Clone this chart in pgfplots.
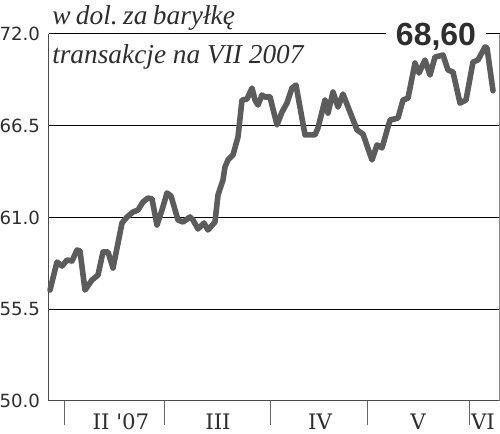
\documentclass[border=0pt]{standalone}
\usepackage{fontspec}
\setmainfont{Liberation Serif}
\newfontfamily\tickfont{DejaVu Sans}
\newfontfamily\monthfont{DejaVu Serif}
\newfontfamily\bignum{Liberation Sans}
\usepackage{pgfplots}
\pgfplotsset{compat=1.18}
\definecolor{linegray}{HTML}{5C5C5C}
\definecolor{txt}{HTML}{2E2E2E}
\begin{document}
\frenchspacing
\begin{tikzpicture}
\useasboundingbox (0,0) rectangle (375pt,325.5pt);
\begin{axis}[
  at={(36.75pt,24.75pt)}, anchor=south west,
  scale only axis, width=338.25pt, height=275.25pt,
  xmin=49, xmax=500, ymin=50, ymax=72,
  axis x line=bottom, axis y line=left,
  axis line style={-, draw=black!70, line width=0.75pt},
  ytick={50,55.5,61,66.5,72},
  yticklabels={50.0,55.5,61.0,66.5,72.0},
  ymajorgrids, grid style={black, line width=0.75pt},
  major y tick style={draw=none},
  yticklabel style={font=\tickfont\fontsize{13.6}{16}\selectfont, text=txt, anchor=east, inner sep=0pt, xshift=-4.5pt},
  xtick={121,218,320,418,483},
  xticklabels={II '07,III,IV,V,VI},
  major x tick style={draw=none},
  xticklabel style={font=\monthfont\fontsize{16}{18}\selectfont, text=txt, anchor=base, inner sep=0pt, yshift=-19.5pt},
  extra x ticks={65,164,270,367,469},
  extra x tick labels={},
  extra x tick style={major tick length=18pt, tick align=outside, major x tick style={draw=black!60, line width=0.75pt}, grid=none},
  clip=false,
]
\node[fill=white, inner xsep=7.5pt, inner ysep=1pt, anchor=base, font=\bignum\bfseries\fontsize{24}{28}\selectfont, text=txt] at (axis cs:436,71.34) {68,60};
\addplot[linegray, line width=4.2pt, line join=round, line cap=round] coordinates {
(50,56.65) (57,58.33) (62,58.09) (67,58.45) (72,58.39) (77,59.05) (80,58.99)
(85,56.65) (92,57.25) (98,57.55) (103,58.93) (108,58.93) (113,57.97) (122,60.67)
(127,61.03) (133,61.33) (138,61.45) (143,61.93) (148,62.17) (152,62.11) (157,60.55)
(162,61.45) (167,62.47) (171,62.29) (178,60.85) (183,60.73) (190,61.03) (193,60.85)
(198,60.31) (204,60.67) (208,60.25) (215,60.73) (218,62.35) (223,63.25) (225,64.03)
(228,64.45) (233,64.75) (238,65.83) (242,68.04) (247,68.10) (252,68.76) (255,68.04)
(258,67.74) (262,68.34) (265,68.22) (270,68.22) (277,66.55) (282,67.32) (287,67.86)
(292,68.76) (296,68.94) (305,65.95) (315,65.95) (318,66.37) (325,68.04) (328,67.26)
(333,68.52) (338,67.62) (343,68.40) (357,66.25) (363,66.00) (372,64.45) (377,65.35)
(382,65.17) (390,66.84) (398,66.96) (403,68.04) (408,68.16) (415,70.26) (419,69.66)
(425,70.44) (430,69.54) (435,70.62) (443,70.74) (448,69.84) (453,69.72) (460,67.86)
(466,68.04) (473,70.32) (478,70.44) (485,71.22) (487,71.16) (493,68.60)
};
\draw[black!45, line width=0.6pt] (axis cs:499.3,50) -- (axis cs:499.3,72);
\node[anchor=base west, inner sep=0pt, font=\itshape\fontsize{20.5}{24}\selectfont, text=txt] at (axis cs:52,72.54) {\spaceskip=0.2em w dol. za baryłkę};
\node[anchor=base west, inner sep=0pt, font=\itshape\fontsize{20.5}{24}\selectfont, text=txt] at (axis cs:52,70.26) {transakcje na VII 2007};
\end{axis}
\end{tikzpicture}
\end{document}
